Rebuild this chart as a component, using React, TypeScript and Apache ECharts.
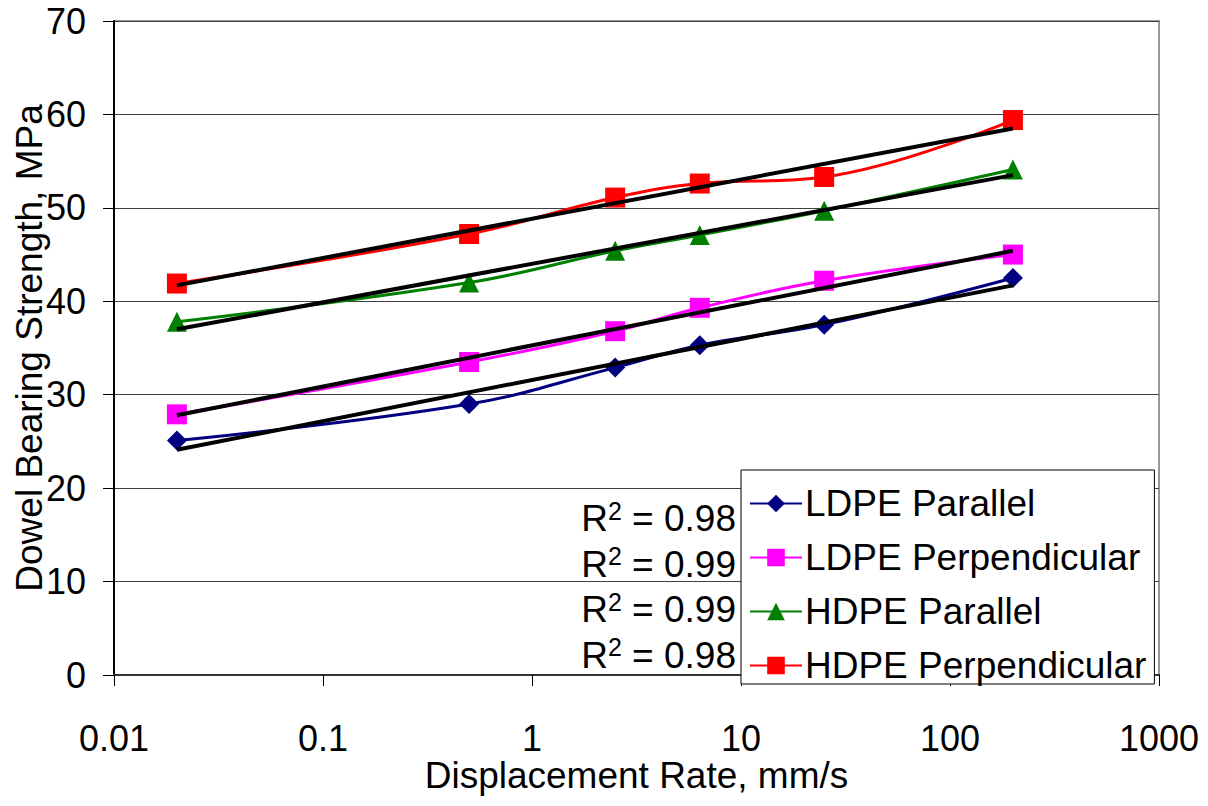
import React, { useEffect, useRef } from "react";
import * as echarts from "echarts";

// ---- data ----
const xValues = [0.02, 0.5, 2.5, 6.35, 25, 200];
const ldpeParallel = [25.1, 29.0, 32.9, 35.3, 37.5, 42.5];
const ldpePerpendicular = [27.9, 33.5, 36.8, 39.3, 42.2, 45.0];
const hdpeParallel = [37.8, 42.0, 45.4, 47.1, 49.7, 54.1];
const hdpePerpendicular = [41.9, 47.2, 51.1, 52.6, 53.3, 59.4];

const trendX = [0.02, 200];
const ldpeParallelTrend = [24.1, 41.7];
const ldpePerpendicularTrend = [27.8, 45.4];
const hdpeParallelTrend = [37.0, 53.5];
const hdpePerpendicularTrend = [41.7, 58.5];

const r2Labels = ["0.98", "0.99", "0.99", "0.98"];
const xTickLabels = ["0.01", "0.1", "1", "10", "100", "1000"];
const seriesNames = ["LDPE Parallel", "LDPE Perpendicular", "HDPE Parallel", "HDPE Perpendicular"];

const FONT = 'Arial, "Liberation Sans", sans-serif';

export default function App() {
  const ref = useRef<HTMLDivElement>(null);

  useEffect(() => {
    if (!ref.current) return;
    const chart = echarts.init(ref.current, undefined, { renderer: "svg" });

    const pair = (xs: number[], ys: number[]) => xs.map((x, i) => [x, ys[i]]);

    const dataSets = [ldpeParallel, ldpePerpendicular, hdpeParallel, hdpePerpendicular];
    const trendSets = [ldpeParallelTrend, ldpePerpendicularTrend, hdpeParallelTrend, hdpePerpendicularTrend];
    const colors = ["#000080", "#FF00FF", "#008000", "#FF0000"];
    const symbols = ["diamond", "rect", "triangle", "rect"];

    const dataSeries = dataSets.map((ys, i) => ({
      name: seriesNames[i],
      type: "line",
      data: pair(xValues, ys),
      smooth: 0.4,
      symbol: symbols[i],
      symbolSize: 20,
      lineStyle: { color: colors[i], width: 3 },
      itemStyle: { color: colors[i] },
      z: 2,
    }));

    const trendSeries = trendSets.map((ys) => ({
      name: "trend",
      type: "line",
      data: pair(trendX, ys),
      symbol: "none",
      lineStyle: { color: "#000000", width: 4 },
      z: 3,
      silent: true,
    }));

    const r2Graphics = r2Labels.map((v, i) => ({
      type: "text",
      right: 1208 - 736,
      top: 498 + i * 45.5,
      z: 10,
      style: {
        text: "R{sup|2} = " + v,
        fill: "#000",
        font: `37px ${FONT}`,
        fontSize: 37,
        fontFamily: FONT,
        rich: {
          sup: { fontSize: 25, fontFamily: FONT, verticalAlign: "top", fill: "#000" },
        },
        lineHeight: 41,
      },
    }));

    chart.setOption({
      animation: false,
      backgroundColor: "#ffffff",
      textStyle: { fontFamily: FONT },
      grid: {
        left: 114,
        right: 49,
        top: 21,
        bottom: 131,
        containLabel: false,
        outerBoundsMode: "none",
        show: true,
        borderColor: "#999999",
        borderWidth: 2,
        backgroundColor: "transparent",
      },
      xAxis: {
        type: "log",
        logBase: 10,
        min: 0.01,
        max: 1000,
        name: "Displacement Rate, mm/s",
        nameLocation: "middle",
        nameGap: 82,
        nameMoveOverlap: false,
        nameTextStyle: { fontSize: 37, color: "#000", fontFamily: FONT },
        axisLine: { lineStyle: { color: "#333", width: 2 } },
        axisTick: { show: true, length: 11, lineStyle: { color: "#000", width: 1 } },
        minorTick: { show: false },
        splitLine: { show: false },
        axisLabel: {
          fontSize: 36,
          color: "#000",
          margin: 45,
          fontFamily: FONT,
          formatter: (val: number) => xTickLabels[Math.round(Math.log10(val)) + 2] ?? "",
        },
      },
      yAxis: {
        type: "value",
        min: 0,
        max: 70,
        interval: 10,
        name: "Dowel Bearing Strength, MPa",
        nameLocation: "middle",
        nameGap: 66,
        nameMoveOverlap: false,
        nameTextStyle: { fontSize: 37, color: "#000", fontFamily: FONT },
        axisLine: { show: true, lineStyle: { color: "#000", width: 2 } },
        axisTick: { show: true, length: 11, lineStyle: { color: "#000", width: 1 } },
        splitLine: { show: true, lineStyle: { color: "#404040", width: 1 } },
        axisLabel: { fontSize: 36, color: "#000", margin: 28, fontFamily: FONT },
      },
      legend: {
        data: seriesNames,
        orient: "vertical",
        left: 741,
        top: 470,
        backgroundColor: "#ffffff",
        borderColor: "#000",
        borderWidth: 1,
        borderRadius: 0,
        padding: [15, 8, 0, 8],
        itemGap: 17,
        itemWidth: 52,
        itemHeight: 22,
        textStyle: { fontSize: 37, color: "#000", fontFamily: FONT, padding: [0, 0, 0, -2] },
        z: 5,
      },
      graphic: r2Graphics,
      series: [...dataSeries, ...trendSeries],
    });

    return () => chart.dispose();
  }, []);

  return (
    <div
      ref={ref}
      style={{ position: "fixed", left: 0, top: 0, width: 1208, height: 806, background: "#fff" }}
    />
  );
}
